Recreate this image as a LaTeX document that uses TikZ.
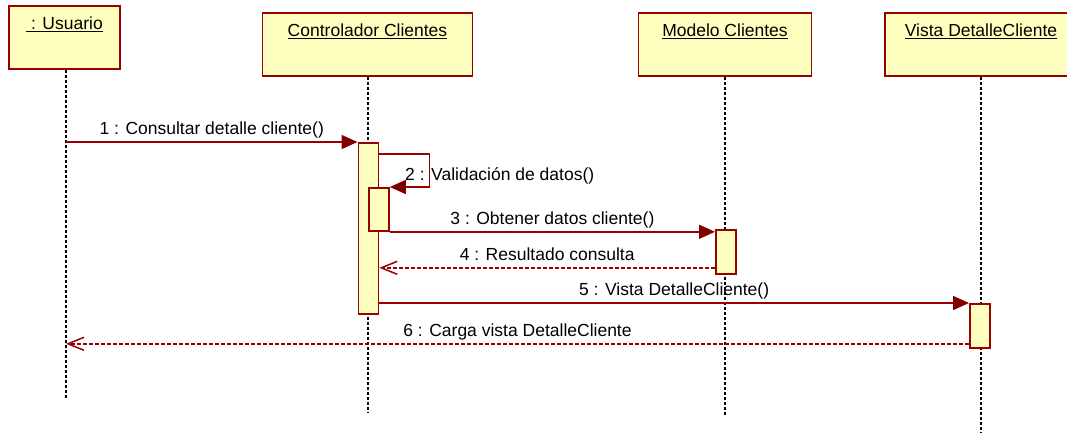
\documentclass[tikz,border=0pt]{standalone}
\usepackage{fontspec}
\setmainfont{Liberation Sans}
\usetikzlibrary{arrows.meta}
\definecolor{umlred}{RGB}{153,0,0}
\definecolor{umldark}{RGB}{128,0,0}
\definecolor{umlfill}{RGB}{255,255,192}

\begin{document}
\begin{tikzpicture}[x=1pt,y=-1pt,font=\fontsize{17.5}{21}\selectfont,
    objbox/.style={draw=umlred,fill=umlfill,line width=1.8pt,anchor=north,inner xsep=0pt,inner ysep=0pt,text height=24pt,text depth=39pt},
    actbox/.style={draw=umlred,fill=umlfill,line width=1.8pt,anchor=north west,inner sep=0pt,minimum width=20pt},
    lifeline/.style={black,line width=1.4pt,dash pattern=on 3pt off 2pt},
    msg/.style={umlred,line width=1.6pt,-{Triangle[length=16pt,width=14pt,color=umldark]}},
    ret/.style={umlred,line width=1.5pt,dash pattern=on 4pt off 2pt,-{Straight Barb[length=16pt,width=13pt]}},
    lbl/.style={text=black,inner sep=0pt,text depth=0pt,above=7pt}]
    \useasboundingbox (0,0) rectangle (1067,432);

    \node[objbox,minimum width=111pt] (usr) at (64.5,5) {\underline{\ : Usuario}};
    \node[objbox,minimum width=210pt] (ctrl) at (367.5,12) {\underline{Controlador Clientes}};
    \node[objbox,minimum width=173pt] (mod) at (725,12) {\underline{Modelo Clientes}};
    \node[objbox,minimum width=192pt] (vista) at (981,12) {\underline{Vista DetalleCliente}};

    \coordinate (usrend) at (66,398);
    \coordinate (ctrlend) at (368,412);
    \coordinate (modend) at (725,415);
    \coordinate (vistaend) at (981,432);
    \draw[lifeline] (usr.south -| usrend) -- (usrend);
    \draw[lifeline] (ctrl.south -| ctrlend) -- (ctrlend);
    \draw[lifeline] (mod.south) -- (modend);
    \draw[lifeline] (vista.south) -- (vistaend);

    \node[actbox,minimum height=171pt] (act1) at (357.5,142) {};
    \node[actbox,minimum height=43pt] (act2) at (368,187) {};
    \node[actbox,minimum height=44pt] (act3) at (715,229) {};
    \node[actbox,minimum height=44pt] (act4) at (969,303) {};

    \coordinate (r4) at ([yshift=7pt]act3.south west);
    \coordinate (r6) at ([yshift=5pt]act4.south west);

    \draw[msg] ([yshift=-12pt]act1.north east) -- ++(50,0) |- (act2.north east);
    \node[anchor=base west,inner sep=0pt] (lbl2) at (405,180) {2 : Validación de datos()};

    \path
    (usrend |- act1.north) edge[msg] node[lbl] {1 : Consultar detalle cliente()} (act1.north west)
    (act2.south east) edge[msg] node[lbl] {3 : Obtener datos cliente()} (act2.south east -| act3.west)
    (r4) edge[ret] node[lbl] {4 : Resultado consulta} (r4 -| act1.east)
    (act1.east |- act4.north) edge[msg] node[lbl] {5 : Vista DetalleCliente()} (act4.north west)
    (r6) edge[ret] node[lbl] {6 : Carga vista DetalleCliente} (r6 -| usrend);
\end{tikzpicture}
\end{document}
